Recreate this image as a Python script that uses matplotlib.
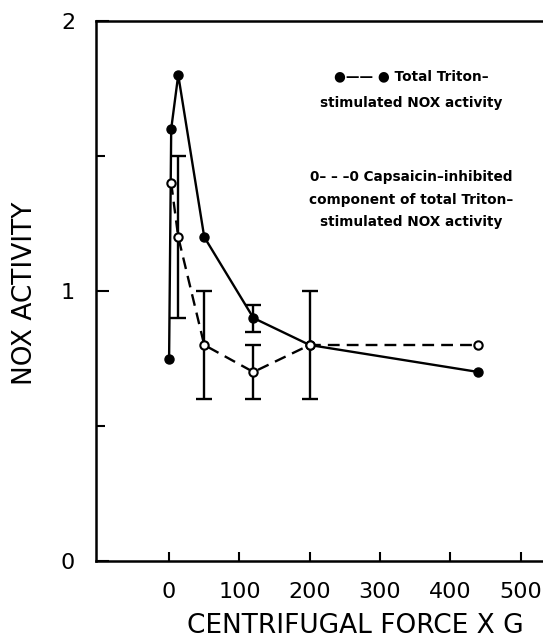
import numpy as np
import matplotlib
matplotlib.use("Agg")
import matplotlib.pyplot as plt
from matplotlib.ticker import MultipleLocator

plt.rcParams['font.family'] = ['DejaVu Sans']

# Total Triton-stimulated NOX activity (solid, filled dots)
total_x = [0, 3, 13, 50, 120, 200, 440]
total_y = [0.75, 1.6, 1.8, 1.2, 0.9, 0.8, 0.7]
total_err = [0, 0, 0, 0, 0.05, 0, 0]

# Capsaicin-inhibited component (dashed, open circles)
caps_x = [3, 13, 50, 120, 200, 440]
caps_y = [1.4, 1.2, 0.8, 0.7, 0.8, 0.8]
caps_err = [0, 0.3, 0.2, 0.1, 0.2, 0]

x_ticks = [0, 100, 200, 300, 400, 500]
y_ticks = [0, 1, 2]

fig = plt.figure(figsize=(5.43, 6.41), dpi=100)
ax = fig.add_axes([96 / 543, 80 / 641, 1 - 96 / 543, 540 / 641])

lw = 1.7
ax.plot(total_x, total_y, color='black', lw=lw, marker='o', ms=6.5,
        mfc='black', mec='black', zorder=3)
ax.plot(caps_x, caps_y, color='black', lw=lw, ls=(0, (5, 3)), marker='o', ms=6,
        mfc='white', mec='black', mew=1.5, zorder=4)

# error bars, only where there is one
tx, ty, te = np.array(total_x), np.array(total_y), np.array(total_err)
m = te > 0
ax.errorbar(tx[m], ty[m], yerr=te[m], fmt='none', ecolor='black',
            elinewidth=lw, capsize=5.5, capthick=lw, zorder=2)
cx, cy, ce = np.array(caps_x), np.array(caps_y), np.array(caps_err)
m = ce > 0
ax.errorbar(cx[m], cy[m], yerr=ce[m], fmt='none', ecolor='black',
            elinewidth=lw, capsize=5.5, capthick=lw, zorder=2)

ax.set_xlim(-104, 532)
ax.set_ylim(0, 2)
ax.set_xticks(x_ticks)
ax.set_yticks(y_ticks)
ax.yaxis.set_minor_locator(MultipleLocator(0.5))
ax.tick_params(axis='both', which='both', direction='in', width=1.5, labelsize=16)
ax.tick_params(axis='x', which='major', length=6.5, pad=15)
ax.tick_params(axis='y', which='major', length=9.5, pad=15)
ax.tick_params(axis='y', which='minor', length=6.5)
ax.spines['right'].set_visible(False)
for s in ['left', 'top', 'bottom']:
    ax.spines[s].set_linewidth(1.8)

ax.set_xlabel("CENTRIFUGAL FORCE X G", fontsize=19, va='center')
ax.xaxis.set_label_coords(0.579, -0.121)
ax.set_ylabel("NOX ACTIVITY", fontsize=19, va='center')
ax.yaxis.set_label_coords(-0.159, 0.496)

tkw = dict(transform=ax.transAxes, ha='center', va='center', fontsize=9.8,
           fontweight='bold')
ax.text(0.705, 0.898, "\u25cf\u2014\u2014 \u25cf Total Triton\u2013", **tkw)
ax.text(0.705, 0.848, "stimulated NOX activity", **tkw)
ax.text(0.705, 0.712, "0\u2013 \u2013 \u20130 Capsaicin\u2013inhibited", **tkw)
ax.text(0.705, 0.669, "component of total Triton\u2013", **tkw)
ax.text(0.705, 0.627, "stimulated NOX activity", **tkw)

fig.savefig("out.png", dpi=100)
